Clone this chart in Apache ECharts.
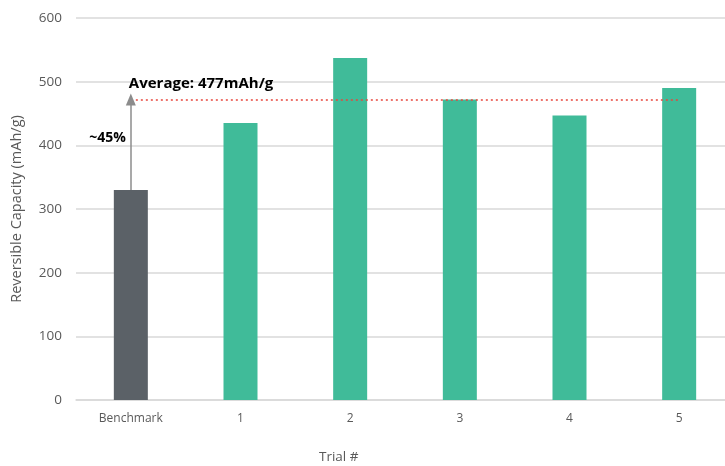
<!DOCTYPE html>
<html><head><meta charset="utf-8">
<script src="https://cdn.jsdelivr.net/npm/echarts@6/dist/echarts.min.js"></script>
<style>html,body{margin:0;padding:0;background:#fff}#c{width:725px;height:466px}</style>
</head><body><div id="c"></div>
<script>
const categories = ['Benchmark', '1', '2', '3', '4', '5'];
const capacity = [330, 435, 537, 472, 447, 490];
const averageLine = [472];
const averageLabel = ['Average: 477mAh/g'];
const gainLabel = ['~45%'];
const yTicks = [0, 100, 200, 300, 400, 500, 600];

const chart = echarts.init(document.getElementById('c'));
const font = '"Open Sans", sans-serif';
const barColors = capacity.map((v, i) => i === 0 ? '#5b6167' : '#40bb99');

chart.setOption({
  animation: false,
  grid: { left: 76, width: 658, top: 18, bottom: 66, containLabel: false, outerBoundsMode: 'none' },
  xAxis: {
    type: 'category', data: categories,
    axisTick: { show: false },
    axisLine: { lineStyle: { color: '#d9d9d9', width: 1.5 } },
    axisLabel: { color: '#595959', fontFamily: font, fontSize: 12, margin: 13 }
  },
  yAxis: {
    type: 'value', min: yTicks[0], max: yTicks[yTicks.length - 1], interval: 100,
    name: 'Reversible Capacity (mAh/g)', nameLocation: 'middle', nameGap: 52,
    nameTextStyle: { color: '#595959', fontFamily: font, fontSize: 14.5 },
    axisLine: { show: false }, axisTick: { show: false },
    axisLabel: { color: '#595959', fontFamily: font, fontSize: 13.5, margin: 14 },
    splitLine: { lineStyle: { color: '#d9d9d9', width: 1.5 } }
  },
  graphic: [{
    type: 'text', left: 319, top: 450,
    style: { text: 'Trial #', fill: '#595959', font: '13.5px "Open Sans", sans-serif' }
  }],
  series: [{
    type: 'bar', barWidth: 34,
    data: capacity.map((v, i) => ({ value: v, itemStyle: { color: barColors[i] } })),
    markLine: {
      silent: true,
      label: { show: false },
      data: [
        [{ coord: [categories[0], averageLine[0]], symbol: 'none', lineStyle: { color: '#e8453c', type: [2, 3], width: 1.5 } },
         { coord: [categories[5], averageLine[0]], symbol: 'none' }],
        [{ coord: [categories[0], capacity[0]], symbol: 'none', lineStyle: { color: '#8c8c8c', type: 'solid', width: 1.5 } },
         { coord: [categories[0], averageLine[0]], symbol: 'triangle', symbolSize: [10, 12] }]
      ]
    },
    markPoint: {
      silent: true, symbol: 'circle', symbolSize: 0,
      data: [
        { coord: [categories[0], 497], label: { show: true, formatter: averageLabel[0], position: 'right', distance: -2, color: '#000', fontWeight: 'bold', fontFamily: font, fontSize: 15 } },
        { coord: [categories[0], 412], label: { show: true, formatter: gainLabel[0], position: 'left', distance: 5, color: '#000', fontWeight: 'bold', fontFamily: font, fontSize: 14 } }
      ]
    }
  }]
});
</script></body></html>
